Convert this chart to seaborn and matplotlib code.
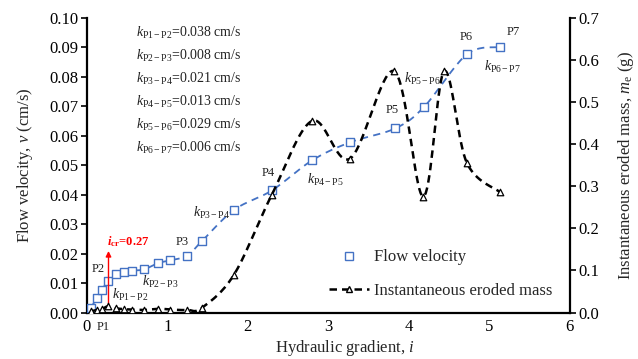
import numpy as np
import matplotlib
matplotlib.use("Agg")
import matplotlib.pyplot as plt
import seaborn as sns
from matplotlib.lines import Line2D

# ---------------- data ----------------
vel_i = [0.05, 0.124, 0.186, 0.268, 0.364, 0.46, 0.56, 0.71, 0.89, 1.04, 1.25, 1.43,
         1.83, 2.30, 2.80, 3.27, 3.83, 4.19, 4.72, 5.13]
vel_v = [0.0016, 0.0048, 0.0078, 0.0106, 0.0130, 0.0138, 0.0142, 0.0146, 0.0168, 0.0177,
         0.0193, 0.0242, 0.0348, 0.0414, 0.0516, 0.0577, 0.0624, 0.0697, 0.0875, 0.0900]

mass_i = [0.05, 0.124, 0.186, 0.268, 0.364, 0.46, 0.56, 0.71, 0.89, 1.04, 1.25, 1.43,
          1.83, 2.30, 2.80, 3.27, 3.82, 4.18, 4.44, 4.72, 5.13]
mass_m = [0.003, 0.006, 0.008, 0.015, 0.010, 0.008, 0.007, 0.006, 0.009, 0.007,
          0.006, 0.011, 0.090, 0.280, 0.455, 0.365, 0.573, 0.275, 0.573, 0.356, 0.286]

k_names = ["P1\u2212P2", "P2\u2212P3", "P3\u2212P4", "P4\u2212P5", "P5\u2212P6", "P6\u2212P7"]
k_values = ["0.038", "0.008", "0.021", "0.013", "0.029", "0.006"]
p_labels = ["P1", "P2", "P3", "P4", "P5", "P6", "P7"]
i_cr = 0.27

x_ticks = [0, 1, 2, 3, 4, 5, 6]
v_ticks = [0.00, 0.01, 0.02, 0.03, 0.04, 0.05, 0.06, 0.07, 0.08, 0.09, 0.10]
m_ticks = [0.0, 0.1, 0.2, 0.3, 0.4, 0.5, 0.6, 0.7]

# ---------------- style ----------------
sns.set_theme(style="white")
plt.rcParams["font.family"] = ["Liberation Serif", "DejaVu Serif"]
plt.rcParams["mathtext.fontset"] = "custom"
plt.rcParams["mathtext.rm"] = "Liberation Serif"
plt.rcParams["mathtext.it"] = "Liberation Serif:italic"
plt.rcParams["mathtext.bf"] = "Liberation Serif:bold"
plt.rcParams["mathtext.bfit"] = "Liberation Serif:italic:bold"

BLUE = "#4472C4"


def smooth(xs, ys, sx, sy, n=20):
    """Catmull-Rom style smoothing (like spreadsheet smoothed lines) for drawing."""
    P = np.column_stack([np.asarray(xs) / sx, np.asarray(ys) / sy])
    P = np.vstack([P[0], P, P[-1]])
    out = []
    for k in range(1, len(P) - 2):
        p0, p1, p2, p3 = P[k - 1], P[k], P[k + 1], P[k + 2]
        c1 = p1 + (p2 - p0) / 6.0
        c2 = p2 - (p3 - p1) / 6.0
        t = np.linspace(0, 1, n)[:, None]
        seg = ((1 - t) ** 3) * p1 + 3 * ((1 - t) ** 2) * t * c1 + 3 * (1 - t) * t ** 2 * c2 + t ** 3 * p2
        out.append(seg if k == 1 else seg[1:])
    out = np.vstack(out)
    return out[:, 0] * sx, out[:, 1] * sy


fig = plt.figure(figsize=(6.38, 3.59), dpi=100)
ax = fig.add_axes([0.136, 0.1295, 0.757, 0.8215])
ax2 = ax.twinx()

# velocity
sx_v, sy_v = smooth(vel_i, vel_v, 6.0, 0.1 * 0.61)
ax.plot(sx_v, sy_v, color=BLUE, lw=1.3, ls=(0, (4, 3)), zorder=2)
sns.scatterplot(x=vel_i, y=vel_v, ax=ax, marker="s", s=36, facecolor="white",
                edgecolor=BLUE, linewidth=1.0, zorder=3, legend=False)

# mass
sx_m, sy_m = smooth(mass_i, mass_m, 6.0, 0.7 * 0.61)
ax2.plot(sx_m, sy_m, color="black", lw=1.8, ls=(0, (3, 2)), zorder=2)
sns.scatterplot(x=mass_i, y=mass_m, ax=ax2, marker="^", s=22, facecolor="white",
                edgecolor="black", linewidth=0.9, zorder=3, legend=False)

ax.set_xlim(0, 6)
ax.set_ylim(0, 0.10)
ax2.set_ylim(0, 0.7)
ax.set_xticks(x_ticks)
ax.set_xticklabels([str(t) for t in x_ticks])
ax.set_yticks(v_ticks)
ax.set_yticklabels([f"{t:.2f}" for t in v_ticks])
ax2.set_yticks(m_ticks)
ax2.set_yticklabels([f"{t:.1f}" for t in m_ticks])

for a in (ax, ax2):
    a.spines["top"].set_visible(False)
    for s in ("left", "right", "bottom"):
        a.spines[s].set_color("black")
        a.spines[s].set_linewidth(1.6)
    a.grid(False)
ax.spines["right"].set_visible(False)
ax2.spines["left"].set_visible(False)
ax2.spines["bottom"].set_visible(False)

ax.tick_params(axis="y", direction="out", length=4, width=1.2, labelsize=12, pad=2, colors="black")
ax.tick_params(axis="x", direction="inout", length=5, width=1.0, labelsize=12, pad=2, colors="black")
ax2.tick_params(axis="y", direction="out", length=4, width=1.2, labelsize=12, pad=2, colors="black")

ax.set_xlabel("Hydraulic gradient, $i$", fontsize=12)
ax.xaxis.set_label_coords(0.534, -0.085)
ax.set_ylabel("Flow velocity, $v$ (cm/s)", fontsize=12, labelpad=10)
ax2.set_ylabel(r"Instantaneous eroded mass, $m_{\mathrm{e}}$ (g)", fontsize=12, labelpad=12)

# k text block
for n, (nm, val) in enumerate(zip(k_names, k_values)):
    ax.text(0.61, 0.0947 - n * 0.00775, rf"$k_{{\mathrm{{{nm}}}}}$={val} cm/s",
            fontsize=10, ha="left", va="center", color="#222222")

# P labels
p_pos = [(0.20, -0.0049), (0.14, 0.0147), (1.18, 0.024), (2.25, 0.0473),
         (3.80, 0.0686), (4.72, 0.0933), (5.30, 0.0951)]
for lab, (xi, yv) in zip(p_labels, p_pos):
    ax.text(xi, yv, lab, fontsize=9, ha="center", va="center", clip_on=False, color="#222222")

# k labels along the curve
k_pos = [(0.31, 0.0059), (0.68, 0.0104), (1.32, 0.0337), (2.74, 0.0448),
         (3.94, 0.0793), (4.94, 0.0833)]
for nm, (xi, yv) in zip(k_names, k_pos):
    ax.text(xi, yv, rf"$k_{{\mathrm{{{nm}}}}}$", fontsize=10, ha="left", va="center", color="#222222")

# critical gradient arrow
ax.annotate("", xy=(i_cr, 0.0218), xytext=(i_cr, 0.0015),
            arrowprops=dict(arrowstyle="-|>", color="red", lw=1.0, mutation_scale=8))
ax.text(0.25, 0.0240, r"$\mathbfit{i}_{\mathbf{cr}}$=0.27", color="red", fontsize=9,
        fontweight="bold", ha="left", va="center")

# legend
handles = [Line2D([], [], ls="none", marker="s", markersize=6, markerfacecolor="white",
                  markeredgecolor=BLUE, markeredgewidth=1.0),
           Line2D([], [], color="black", lw=1.8, ls=(0, (3, 2)), marker="^", markersize=5,
                  markerfacecolor="white", markeredgecolor="black")]
ax.legend(handles, ["Flow velocity", "Instantaneous eroded mass"], loc="lower left",
          bbox_to_anchor=(0.47, -0.005), frameon=False, fontsize=12, handlelength=2.4,
          handletextpad=0.3, labelspacing=1.05)

fig.savefig("out.png", dpi=100, facecolor="white")
